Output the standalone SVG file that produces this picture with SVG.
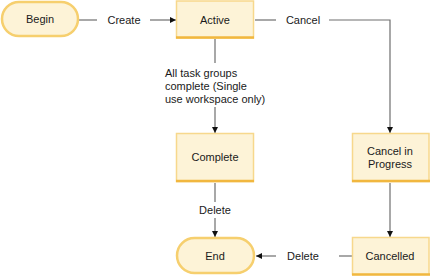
<svg xmlns="http://www.w3.org/2000/svg" width="430" height="276" viewBox="0 0 430 276">
<style>
.box{fill:#fdf3d7;stroke:#f7d88c;stroke-width:1.5}
.shadow{stroke:#f1b73f;stroke-width:2.5;fill:none}
.pill{fill:#fdf3d7;stroke:#f6cf6e;stroke-width:2.5}
.lbl{font-family:"Liberation Sans",Arial,sans-serif;font-size:11px;fill:#1a1a1a}
.ctr{text-anchor:middle}
.ln{stroke:#6e6e6e;stroke-width:1.2;fill:none}
</style>
<defs>
<marker id="ah" viewBox="0 0 6 6" refX="6" refY="3" markerWidth="6" markerHeight="6" markerUnits="userSpaceOnUse" orient="auto">
<path d="M0,0 L6,3 L0,6 z" fill="#111"/>
</marker>
</defs>
<g id="connectors">
<line class="ln" x1="79" y1="20" x2="97" y2="20"/>
<line class="ln" x1="150" y1="20" x2="176" y2="20" marker-end="url(#ah)"/>
<line class="ln" x1="255" y1="20" x2="276" y2="20"/>
<polyline class="ln" points="329,20 390,20 390,133" marker-end="url(#ah)"/>
<line class="ln" x1="215" y1="39" x2="215" y2="63"/>
<line class="ln" x1="215" y1="107" x2="215" y2="133" marker-end="url(#ah)"/>
<line class="ln" x1="390" y1="183" x2="390" y2="237" marker-end="url(#ah)"/>
<line class="ln" x1="215" y1="183" x2="215" y2="202"/>
<line class="ln" x1="215" y1="218" x2="215" y2="237" marker-end="url(#ah)"/>
<line class="ln" x1="352" y1="256" x2="339" y2="256"/>
<line class="ln" x1="276" y1="256" x2="256" y2="256" marker-end="url(#ah)"/>
<text class="lbl ctr" x="124" y="24">Create</text>
<text class="lbl ctr" x="303" y="24">Cancel</text>
<text class="lbl" x="165" y="77">All task groups</text>
<text class="lbl" x="165" y="90">complete (Single</text>
<text class="lbl" x="165" y="103">use workspace only)</text>
<text class="lbl ctr" x="215" y="214">Delete</text>
<text class="lbl ctr" x="303" y="260">Delete</text>
</g>
<g id="begin">
<rect class="pill" x="2" y="2" width="76" height="34" rx="17"/>
<text class="lbl ctr" x="40" y="23">Begin</text>
</g>
<g id="active">
<rect class="box" x="176.5" y="1" width="77" height="37"/>
<line class="shadow" x1="176" y1="37.5" x2="254" y2="37.5"/>
<text class="lbl ctr" x="215" y="24">Active</text>
</g>
<g id="complete">
<rect class="box" x="176.5" y="133.5" width="77" height="48"/>
<line class="shadow" x1="176" y1="181" x2="254" y2="181"/>
<text class="lbl ctr" x="215" y="161">Complete</text>
</g>
<g id="cancel-in-progress">
<rect class="box" x="352.5" y="133.5" width="76.5" height="48"/>
<line class="shadow" x1="352" y1="181" x2="430" y2="181"/>
<text class="lbl ctr" x="390" y="155">Cancel in</text>
<text class="lbl ctr" x="390" y="168">Progress</text>
</g>
<g id="cancelled">
<rect class="box" x="352.5" y="237.5" width="76.5" height="37"/>
<line class="shadow" x1="352" y1="274.5" x2="430" y2="274.5"/>
<text class="lbl ctr" x="390" y="260">Cancelled</text>
</g>
<g id="end">
<rect class="pill" x="177" y="238" width="77" height="35" rx="17.5"/>
<text class="lbl ctr" x="215" y="260">End</text>
</g>
</svg>
